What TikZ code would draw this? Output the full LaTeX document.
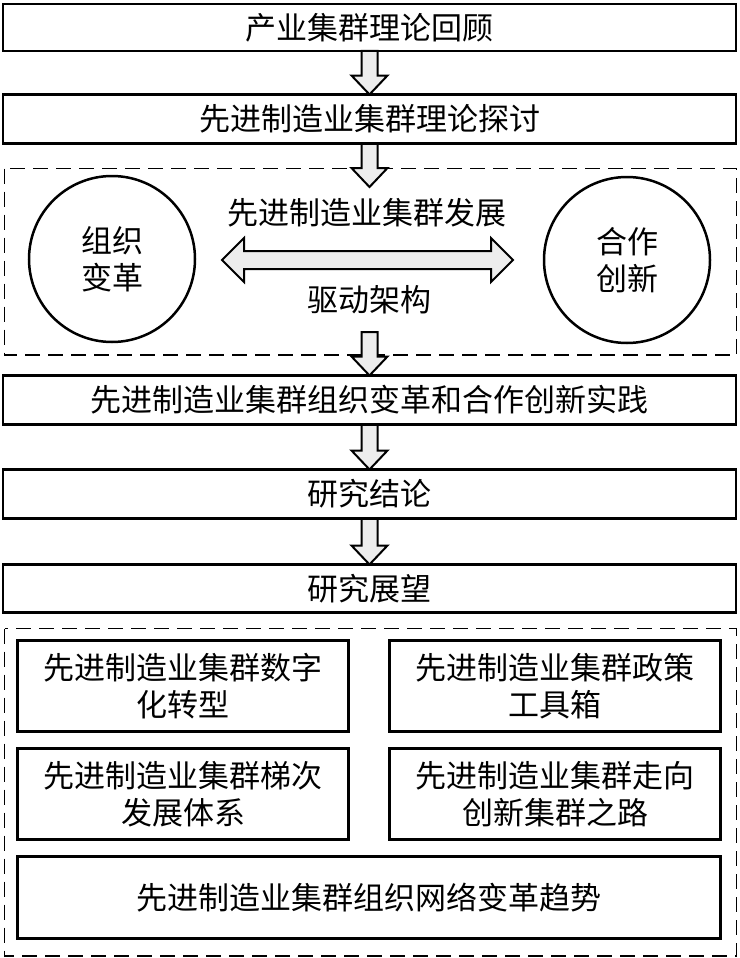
\documentclass[tikz,border=0pt]{standalone}
\usepackage{fontspec}
\setmainfont{Noto Sans CJK SC}
\usetikzlibrary{calc}
\tikzset{
  txt/.style={font=\fontsize{31}{37}\selectfont, inner sep=0pt, outer sep=0pt, align=center},
  mainbox/.style={txt, draw, line width=2.7pt, fill=white, minimum width=733pt, minimum height=47pt},
  subbox/.style={txt, draw, line width=3pt, fill=white, minimum width=331pt, minimum height=91pt},
  circ/.style={txt, draw, circle, line width=2.5pt, minimum size=166pt},
  dashbox/.style={line width=1.7pt, dash pattern=on 15pt off 8pt},
  barrow/.style={draw, line width=2pt, fill=black!7, line join=miter}
}
\newcommand\myblockarrow[2]{%
  \draw[barrow] let \p1=(#1), \p2=(#2) in
    (\x1-8pt,\y1) -- (\x1+8pt,\y1) -- (\x1+8pt,\y2+19pt) -- (\x1+18pt,\y2+19pt)
    -- (\x1,\y2) -- (\x1-18pt,\y2+19pt) -- (\x1-8pt,\y2+19pt) -- cycle;}
\begin{document}
\begin{tikzpicture}[x=1pt,y=-1pt]
\useasboundingbox (0,0) rectangle (739,958);
% dashed containers
\draw[dashbox] (4.5,168.5) rectangle (736.5,355);
\draw[dashbox] (4.5,628.5) rectangle (736.5,956);
% coordinates for arrows
\coordinate (a2tip) at (369.5,187);
\coordinate (a3start) at (369.5,332);
\coordinate (DL) at (222,260);
\coordinate (DR) at (513,260);
% main boxes
\node[mainbox] (b1) at (369.5,27.5) {产业集群理论回顾};
\node[mainbox, minimum height=49pt] (b2) at (369.5,119) {先进制造业集群理论探讨};
\node[mainbox, minimum height=49pt] (b3) at (369.5,400) {先进制造业集群组织变革和合作创新实践};
\node[mainbox, minimum height=49pt] (b4) at (369.5,494) {研究结论};
\node[mainbox, minimum height=48pt] (b5) at (369.5,588.5) {研究展望};
% arrows
\myblockarrow{b1.south}{b2.north}
\myblockarrow{b2.south}{a2tip}
\myblockarrow{a3start}{b3.north}
\myblockarrow{b3.south}{b4.north}
\myblockarrow{b4.south}{b5.north}
% redraw main boxes bottom borders over arrow tops
\foreach \n in {b1,b2,b3,b4} {
  \draw[line width=2.7pt] (\n.south west) -- (\n.south east);
}
% circles and middle
\node[circ] (c1) at (112,259) {组织\\变革};
\node[circ] (c2) at (627,260) {合作\\创新};
\node[txt] (t1) at (367,213) {先进制造业集群发展};
\node[txt] (t2) at (369,300) {驱动架构};
\draw[barrow] let \p1=(DL), \p2=(DR) in
  (\p1) -- (\x1+22pt,\y1+22pt) -- (\x1+22pt,\y1+9pt) -- (\x2-22pt,\y1+9pt)
  -- (\x2-22pt,\y1+22pt) -- (\p2) -- (\x2-22pt,\y1-22pt) -- (\x2-22pt,\y1-9pt)
  -- (\x1+22pt,\y1-9pt) -- (\x1+22pt,\y1-22pt) -- cycle;
% bottom sub-boxes
\node[subbox] (s1) at (183,686) {先进制造业集群数字\\化转型};
\node[subbox] (s2) at (555,686) {先进制造业集群政策\\工具箱};
\node[subbox] (s3) at (183,794) {先进制造业集群梯次\\发展体系};
\node[subbox] (s4) at (555,794) {先进制造业集群走向\\创新集群之路};
\node[subbox, minimum width=703pt, minimum height=82pt] (s5) at (369,897.5) {先进制造业集群组织网络变革趋势};
\end{tikzpicture}
\end{document}
